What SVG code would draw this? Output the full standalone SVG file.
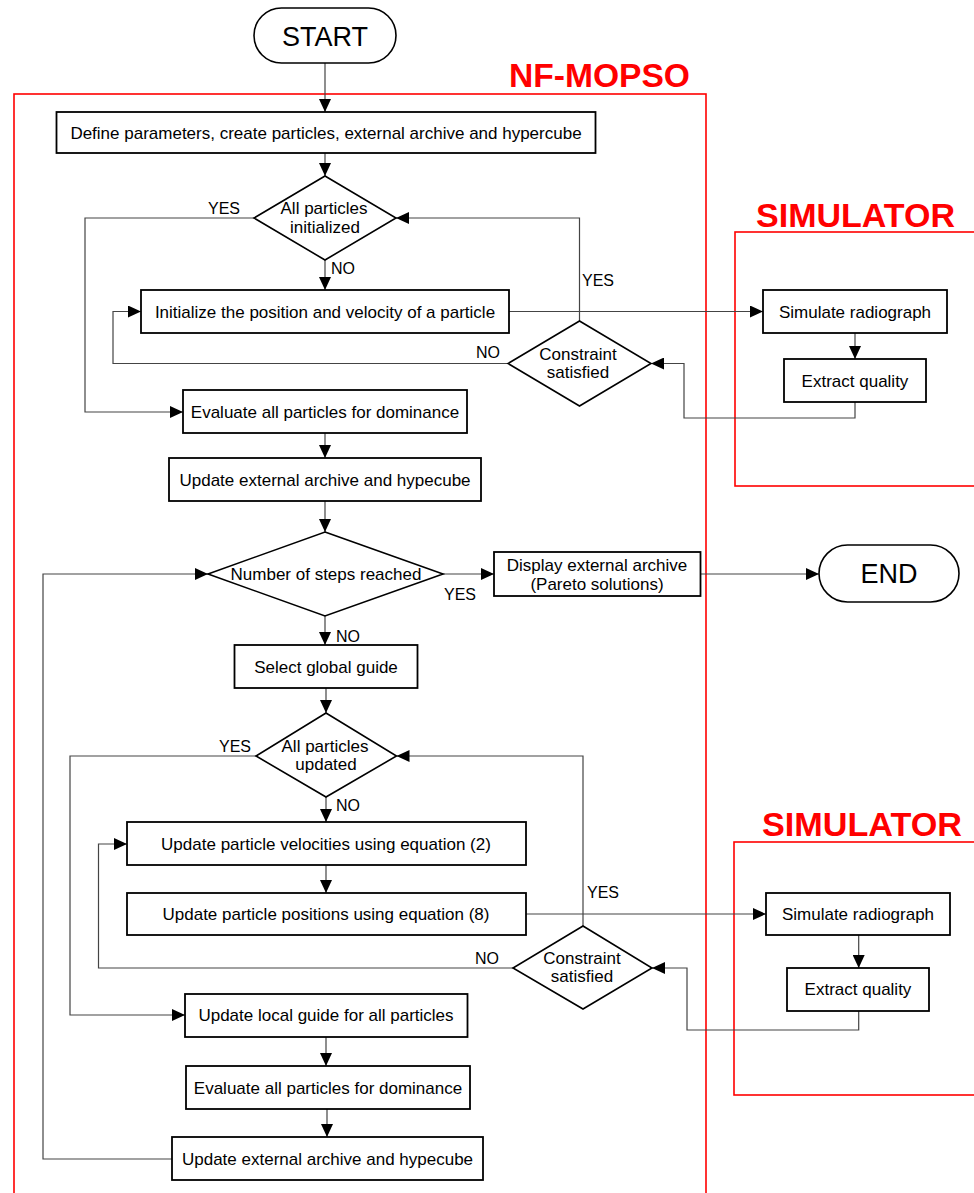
<svg xmlns="http://www.w3.org/2000/svg" width="974" height="1193" viewBox="0 0 974 1193">
<style>
.bg{fill:#fff}
.box{fill:#fff;stroke:#000;stroke-width:1.8}
.dia{fill:#fff;stroke:#000;stroke-width:1.6}
.term{fill:#fff;stroke:#000;stroke-width:1.6}
.frame{fill:none;stroke:#f00;stroke-width:1.6}
.conn{fill:none;stroke:#444;stroke-width:1.2;marker-end:url(#ah)}
text{font-family:"Liberation Sans",Arial,sans-serif;fill:#000}
.t{font-size:17px;text-anchor:middle}
.lbl{font-size:16px}
.big{font-size:27px;text-anchor:middle}
.red{font-size:33px;font-weight:bold;fill:#f00}
</style>
<defs>
<marker id="ah" markerUnits="userSpaceOnUse" markerWidth="14" markerHeight="12" refX="13" refY="6" orient="auto">
<path d="M0,0 L13,6 L0,12 z" fill="#000"/>
</marker>
</defs>
<rect class="bg" x="0" y="0" width="974" height="1193"/>

<g id="frames">
<rect class="frame" x="14" y="94" width="692" height="1120"/>
<text class="red" x="509" y="87" textLength="181" lengthAdjust="spacingAndGlyphs">NF-MOPSO</text>
<rect class="frame" x="735" y="232" width="260" height="254"/>
<text class="red" x="756" y="227" textLength="199" lengthAdjust="spacingAndGlyphs">SIMULATOR</text>
<rect class="frame" x="734" y="842" width="260" height="253"/>
<text class="red" x="762" y="836" textLength="200" lengthAdjust="spacingAndGlyphs">SIMULATOR</text>
</g>

<g id="connectors">
<path class="conn" d="M325,63 V112"/>
<path class="conn" d="M325,153 V176"/>
<path class="conn" d="M325,260 V290"/>
<path class="conn" d="M254,218 H85 V412 H183"/>
<path class="conn" d="M509,311.5 H763"/>
<path class="conn" d="M855,333 V359"/>
<path class="conn" d="M855,402 V418 H684 V363.5 H651"/>
<path class="conn" d="M579.5,321 V218 H396"/>
<path class="conn" d="M508,363.5 H113 V311.5 H141"/>
<path class="conn" d="M325,433 V458"/>
<path class="conn" d="M325,501 V532"/>
<path class="conn" d="M443,574 H494"/>
<path class="conn" d="M700.5,574 H819"/>
<path class="conn" d="M325,616 V645"/>
<path class="conn" d="M326,688 V713"/>
<path class="conn" d="M326,797 V822"/>
<path class="conn" d="M256,756 H70 V1015 H185"/>
<path class="conn" d="M326,865 V893"/>
<path class="conn" d="M526,914 H766"/>
<path class="conn" d="M858.7,935 V968"/>
<path class="conn" d="M858.7,1011 V1030 H687 V968 H652"/>
<path class="conn" d="M583,926 V756 H396.5"/>
<path class="conn" d="M513,968 H98.5 V844 H127"/>
<path class="conn" d="M326,1037 V1066"/>
<path class="conn" d="M327,1109 V1137"/>
<path class="conn" d="M172,1159 H43 V574 H208"/>
<text class="lbl" x="208" y="214">YES</text>
<text class="lbl" x="331" y="274">NO</text>
<text class="lbl" x="582" y="286">YES</text>
<text class="lbl" x="476" y="358">NO</text>
<text class="lbl" x="444" y="600">YES</text>
<text class="lbl" x="336" y="642">NO</text>
<text class="lbl" x="219" y="752">YES</text>
<text class="lbl" x="336" y="811">NO</text>
<text class="lbl" x="587" y="898">YES</text>
<text class="lbl" x="475" y="964">NO</text>
</g>

<g id="start">
<rect class="term" x="254" y="8" width="142" height="55" rx="27.5"/>
<text class="big" x="325" y="46">START</text>
</g>
<g id="define">
<rect class="box" x="56.5" y="112" width="539" height="41"/>
<text class="t" x="326" y="138.5">Define parameters, create particles, external archive and hypercube</text>
</g>
<g id="allinit">
<polygon class="dia" points="325,176 396,218 325,260 254,218"/>
<text class="t" x="324" y="214">All particles</text>
<text class="t" x="325" y="233">initialized</text>
</g>
<g id="initialize">
<rect class="box" x="141" y="290" width="368" height="43"/>
<text class="t" x="325" y="317.5">Initialize the position and velocity of a particle</text>
</g>
<g id="constraint1">
<polygon class="dia" points="579.5,321 651,363.5 579.5,406 508,363.5"/>
<text class="t" x="578" y="360">Constraint</text>
<text class="t" x="578" y="378">satisfied</text>
</g>
<g id="simulate1">
<rect class="box" x="763" y="290" width="184" height="43"/>
<text class="t" x="855" y="317.5">Simulate radiograph</text>
</g>
<g id="extract1">
<rect class="box" x="784" y="359" width="142" height="43"/>
<text class="t" x="855" y="386.5">Extract quality</text>
</g>
<g id="evaluate1">
<rect class="box" x="183" y="390" width="284" height="43"/>
<text class="t" x="325" y="417.5">Evaluate all particles for dominance</text>
</g>
<g id="updateext1">
<rect class="box" x="169" y="458" width="312" height="43"/>
<text class="t" x="325" y="485.5">Update external archive and hypecube</text>
</g>
<g id="steps">
<polygon class="dia" points="325,532 443,574 325,616 208,574"/>
<text class="t" x="326" y="580">Number of steps reached</text>
</g>
<g id="display">
<rect class="box" x="494" y="552" width="206.5" height="44"/>
<text class="t" x="597" y="570.5">Display external archive</text>
<text class="t" x="597" y="589.5">(Pareto solutions)</text>
</g>
<g id="end">
<rect class="term" x="819" y="545" width="140" height="57" rx="28.5"/>
<text class="big" x="889" y="583">END</text>
</g>
<g id="select">
<rect class="box" x="234.5" y="645" width="183" height="43"/>
<text class="t" x="326" y="672.5">Select global guide</text>
</g>
<g id="allupd">
<polygon class="dia" points="326,713 396.5,756 326,797 256,756"/>
<text class="t" x="325" y="752">All particles</text>
<text class="t" x="326" y="770">updated</text>
</g>
<g id="velocities">
<rect class="box" x="127" y="822" width="399" height="43"/>
<text class="t" x="326" y="849.5">Update particle velocities using equation (2)</text>
</g>
<g id="positions">
<rect class="box" x="127" y="893" width="399" height="42"/>
<text class="t" x="326" y="920">Update particle positions using equation (8)</text>
</g>
<g id="constraint2">
<polygon class="dia" points="583,926 652,968 583,1009 513,968"/>
<text class="t" x="582" y="963.5">Constraint</text>
<text class="t" x="582" y="981.5">satisfied</text>
</g>
<g id="simulate2">
<rect class="box" x="766" y="893" width="184" height="42"/>
<text class="t" x="858" y="920">Simulate radiograph</text>
</g>
<g id="extract2">
<rect class="box" x="787" y="968" width="142" height="43"/>
<text class="t" x="858" y="995">Extract quality</text>
</g>
<g id="localguide">
<rect class="box" x="185" y="994" width="282.5" height="43"/>
<text class="t" x="326" y="1021">Update local guide for all particles</text>
</g>
<g id="evaluate2">
<rect class="box" x="186" y="1066" width="284" height="43"/>
<text class="t" x="328" y="1093.5">Evaluate all particles for dominance</text>
</g>
<g id="updateext2">
<rect class="box" x="172" y="1137" width="311" height="43"/>
<text class="t" x="327.5" y="1165">Update external archive and hypecube</text>
</g>
</svg>
